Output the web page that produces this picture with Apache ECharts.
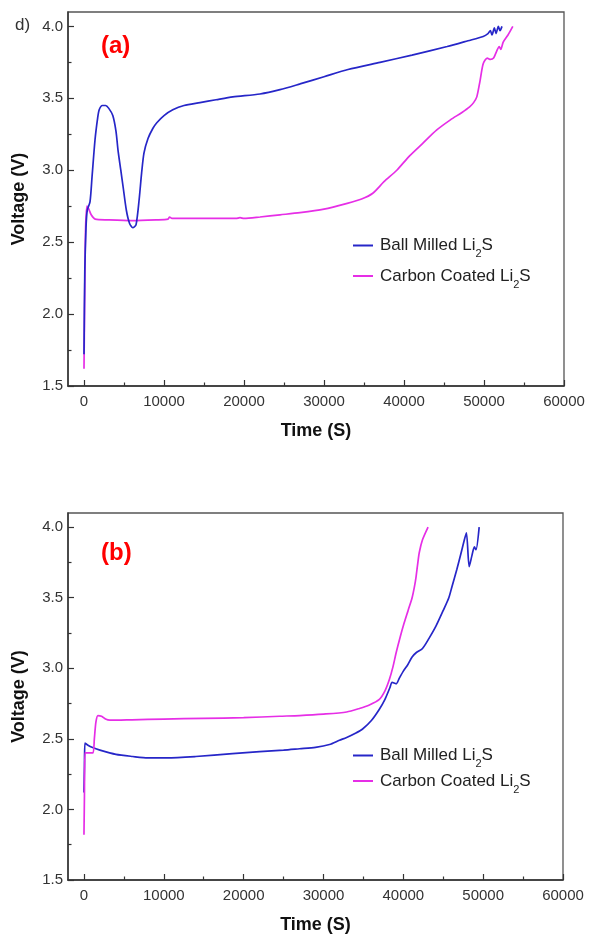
<!DOCTYPE html>
<html>
<head>
<meta charset="utf-8">
<script src="https://cdn.jsdelivr.net/npm/echarts@6/dist/echarts.min.js"></script>
<style>
html,body{margin:0;padding:0;background:#fff;}
#chart{width:590px;height:936px;}
</style>
</head>
<body>
<div id="chart"></div>
<script>
// ---- data (time in s, voltage in V) ----
var seriesNames = ['Ball Milled Li2S', 'Carbon Coated Li2S'];
var xMajorTicks = [0, 10000, 20000, 30000, 40000, 50000, 60000];
var xMinorTicks = [5000, 15000, 25000, 35000, 45000, 55000];
var yMajorTicks = [1.5, 2.0, 2.5, 3.0, 3.5, 4.0];
var yMinorTicks = [1.75, 2.25, 2.75, 3.25, 3.75];

var ballMilledA = [[0,1.72],[100,2.3],[250,2.6],[400,2.72],[750,2.78],[1000,2.95],[1375,3.21],[1700,3.36],[1900,3.42],[2300,3.45],[2700,3.45],[3100,3.43],[3600,3.38],[4000,3.27],[4250,3.14],[4600,3.0],[4900,2.88],[5300,2.72],[5700,2.63],[6100,2.60],[6500,2.62],[6900,2.80],[7200,2.98],[7500,3.12],[8000,3.22],[8600,3.29],[9100,3.33],[10000,3.38],[11100,3.42],[12500,3.45],[14500,3.47],[16500,3.49],[18600,3.51],[22000,3.53],[24500,3.56],[27000,3.60],[30000,3.65],[33000,3.70],[37000,3.75],[41000,3.80],[45400,3.86],[48000,3.90],[49900,3.93],[50500,3.95],[50800,3.97],[51000,3.94],[51300,3.99],[51500,3.95],[51800,4.0],[52000,3.97],[52250,4.0]];
var carbonCoatedA = [[0,1.62],[100,2.2],[200,2.6],[375,2.75],[600,2.73],[900,2.69],[1400,2.66],[3000,2.655],[6000,2.65],[9000,2.655],[10500,2.66],[10700,2.675],[11000,2.665],[15000,2.665],[19000,2.665],[19500,2.67],[20000,2.665],[22000,2.675],[24500,2.69],[27000,2.705],[30000,2.73],[32900,2.77],[34700,2.80],[36100,2.84],[37500,2.92],[39100,3.0],[40700,3.10],[42400,3.19],[44100,3.28],[45800,3.35],[47200,3.40],[48200,3.44],[48700,3.47],[49100,3.51],[49500,3.62],[49900,3.74],[50400,3.78],[50800,3.77],[51200,3.78],[51600,3.83],[51900,3.86],[52100,3.84],[52400,3.89],[53000,3.94],[53600,4.0]];

var ballMilledB = [[0,2.12],[60,2.30],[125,2.47],[500,2.455],[1000,2.44],[2000,2.42],[4000,2.39],[6100,2.375],[8000,2.365],[10400,2.365],[14000,2.375],[18600,2.395],[22000,2.41],[25000,2.42],[27000,2.43],[29000,2.44],[30750,2.46],[32000,2.49],[32900,2.51],[34000,2.54],[34900,2.57],[36000,2.63],[37000,2.71],[37700,2.78],[38300,2.86],[38600,2.90],[39100,2.89],[39500,2.93],[40000,2.98],[40500,3.02],[41100,3.08],[41600,3.11],[42400,3.14],[43200,3.21],[44100,3.30],[45000,3.41],[45700,3.50],[46100,3.58],[46700,3.70],[47250,3.82],[47600,3.90],[47900,3.96],[48250,3.72],[48600,3.80],[48900,3.86],[49100,3.84],[49500,4.0]];
var carbonCoatedB = [[0,1.82],[60,2.1],[125,2.40],[600,2.40],[1125,2.40],[1300,2.50],[1500,2.62],[1750,2.665],[2200,2.66],[2700,2.64],[3250,2.632],[6000,2.635],[10000,2.64],[15000,2.645],[20000,2.65],[24500,2.66],[27000,2.665],[30000,2.675],[32900,2.69],[34500,2.715],[35750,2.74],[37000,2.78],[37700,2.84],[38250,2.92],[38700,3.01],[39100,3.11],[39600,3.22],[40100,3.32],[40600,3.41],[41100,3.50],[41400,3.58],[41600,3.65],[41800,3.74],[42000,3.82],[42400,3.91],[43100,4.0]];

// ---- styling ----
var FONT = 'Liberation Sans, Arial, sans-serif';
var BLUE = '#2626c8';
var MAGENTA = '#e62ee6';
var grids = [
  {left: 68, top: 12, width: 496, height: 374},
  {left: 68, top: 513, width: 495, height: 367}
];

function xAxes(gi) {
  return [{
    type: 'value', gridIndex: gi, min: -2000, max: 60000, position: 'bottom',
    name: 'Time (S)', nameLocation: 'middle', nameGap: 36,
    nameTextStyle: {fontFamily: FONT, fontSize: 18, fontWeight: 'bold', color: '#111'},
    axisLine: {show: true, onZero: false, lineStyle: {color: '#333', width: 1.5}},
    axisTick: {show: true, inside: true, length: 6, customValues: xMajorTicks, lineStyle: {color: '#333', width: 1.2}},
    axisLabel: {customValues: xMajorTicks, margin: 8, fontFamily: FONT, fontSize: 15, color: '#333',
      formatter: function (v) { return String(v); }},
    splitLine: {show: false}
  }, {
    type: 'value', gridIndex: gi, min: -2000, max: 60000, position: 'bottom',
    axisLine: {show: false, onZero: false},
    axisTick: {show: true, inside: true, length: 3.5, customValues: xMinorTicks, lineStyle: {color: '#333', width: 1.2}},
    axisLabel: {show: false},
    splitLine: {show: false}
  }];
}
function yAxes(gi) {
  return [{
    type: 'value', gridIndex: gi, min: 1.5, max: 4.1, position: 'left',
    name: 'Voltage (V)', nameLocation: 'middle', nameGap: 40, nameRotate: 90,
    nameTextStyle: {fontFamily: FONT, fontSize: 18, fontWeight: 'bold', color: '#111'},
    axisLine: {show: true, onZero: false, lineStyle: {color: '#333', width: 1.5}},
    axisTick: {show: true, inside: true, length: 6, customValues: yMajorTicks, lineStyle: {color: '#333', width: 1.2}},
    axisLabel: {customValues: yMajorTicks, margin: 5, fontFamily: FONT, fontSize: 15, color: '#333',
      formatter: function (v) { return v.toFixed(1); }},
    splitLine: {show: false}
  }, {
    type: 'value', gridIndex: gi, min: 1.5, max: 4.1, position: 'left',
    axisLine: {show: false, onZero: false},
    axisTick: {show: true, inside: true, length: 3.5, customValues: yMinorTicks, lineStyle: {color: '#333', width: 1.2}},
    axisLabel: {show: false},
    splitLine: {show: false}
  }];
}

function lineSeries(name, data, color, xi, yi) {
  return {
    type: 'line', name: name, data: data, xAxisIndex: xi, yAxisIndex: yi,
    showSymbol: false, smooth: 0.25, color: color,
    lineStyle: {color: color, width: 1.7}, emphasis: {disabled: true}, silent: true
  };
}

var legendRich = {
  t: {fontFamily: FONT, fontSize: 17, color: '#222', lineHeight: 28},
  s: {fontFamily: FONT, fontSize: 11, color: '#222', lineHeight: 6, verticalAlign: 'bottom'}
};
function legendFmt(name) {
  var base = name.replace('Li2S', 'Li');
  return '{t|' + base + '}{s|2}{t|S}';
}
function legend(top, gap) {
  return {
    data: seriesNames, orient: 'vertical', left: 353, top: top, padding: 0,
    itemGap: gap, itemWidth: 20, itemHeight: 2, icon: 'rect',
    selectedMode: false, formatter: legendFmt,
    textStyle: {rich: legendRich, padding: [0, 0, 0, 2]}
  };
}

var option = {
  backgroundColor: '#ffffff',
  animation: false,
  grid: grids.map(function (g) {
    return Object.assign({show: true, borderColor: '#555', borderWidth: 1.3, backgroundColor: '#fff'}, g);
  }),
  xAxis: xAxes(0).concat(xAxes(1)),
  yAxis: yAxes(0).concat(yAxes(1)),
  legend: [legend(237, 8), legend(747, 3)],
  series: [
    lineSeries(seriesNames[1], carbonCoatedA, MAGENTA, 0, 0),
    lineSeries(seriesNames[0], ballMilledA, BLUE, 0, 0),
    lineSeries(seriesNames[0], ballMilledB, BLUE, 2, 2),
    lineSeries(seriesNames[1], carbonCoatedB, MAGENTA, 2, 2)
  ],
  graphic: [
    {type: 'text', left: 15, top: 17, style: {text: 'd)', fontFamily: FONT, fontSize: 17, fill: '#333'}},
    {type: 'text', left: 101, top: 34, style: {text: '(a)', fontFamily: FONT, fontSize: 24, fontWeight: 'bold', fill: '#ff0000'}},
    {type: 'text', left: 101, top: 541, style: {text: '(b)', fontFamily: FONT, fontSize: 24, fontWeight: 'bold', fill: '#ff0000'}}
  ]
};

var chart = echarts.init(document.getElementById('chart'), null, {renderer: 'canvas'});
chart.setOption(option);
</script>
</body>
</html>
